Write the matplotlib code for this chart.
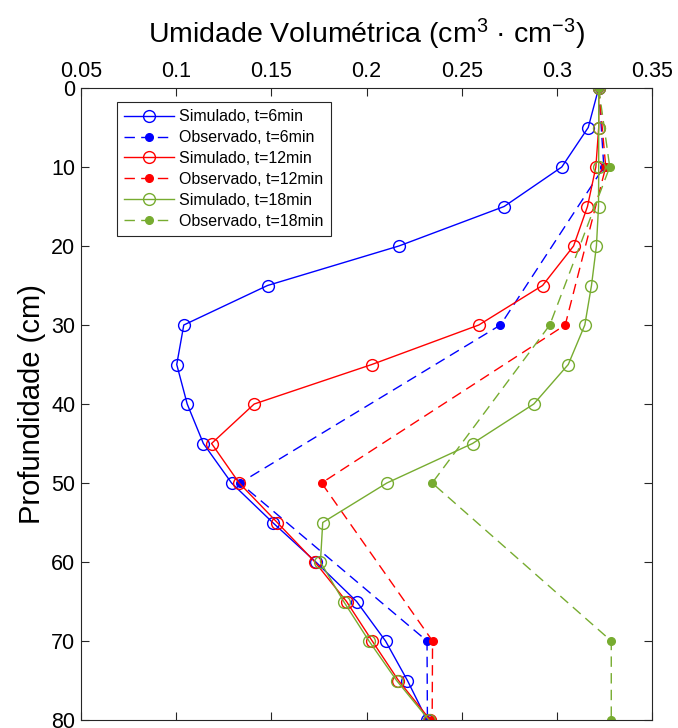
#umidade volumetrica vs profundidade - simulado e observado

import numpy as np
import matplotlib.pyplot as plt

plt.rcParams['font.family'] = ['Liberation Sans', 'DejaVu Sans']
plt.rcParams['mathtext.default'] = 'regular'

##dados lidos do grafico
#profundidades (cm)
prof_sim = [0, 5, 10, 15, 20, 25, 30, 35, 40, 45, 50, 55, 60, 65, 70, 75, 80]
prof_obs = [0, 10, 30, 50, 70, 80]

#simulado
sim_6 = [0.322, 0.3165, 0.3026, 0.2723, 0.217, 0.148, 0.104, 0.1003, 0.1058,
         0.1143, 0.1291, 0.1507, 0.1734, 0.1948, 0.2100, 0.2215, 0.2318]
sim_12 = [0.322, 0.322, 0.3205, 0.3161, 0.3088, 0.2925, 0.259, 0.2028, 0.141,
          0.1186, 0.1331, 0.1531, 0.1729, 0.1895, 0.2030, 0.2168, 0.2335]
sim_18 = [0.322, 0.322, 0.322, 0.3219, 0.3208, 0.3182, 0.3147, 0.306, 0.2879,
          0.2557, 0.2107, 0.177, 0.1758, 0.188, 0.2013, 0.2158, 0.2328]

#observado
obs_6 = [0.322, 0.3247, 0.2704, 0.1335, 0.2318, 0.2320]
obs_12 = [0.322, 0.3257, 0.3044, 0.1764, 0.2347, 0.2345]
obs_18 = [0.322, 0.3278, 0.2963, 0.2345, 0.3286, 0.3286]

labels = ['Simulado, t=6min', 'Observado, t=6min',
          'Simulado, t=12min', 'Observado, t=12min',
          'Simulado, t=18min', 'Observado, t=18min']

azul = (0, 0, 1)
verm = (1, 0, 0)
verde = (0.466, 0.674, 0.188)

fig = plt.figure(figsize=(6.78, 7.28), dpi=100)
ax = fig.add_axes([81/678, 1-720/728, 571/678, 632/728])

pares = [(sim_6, obs_6, azul), (sim_12, obs_12, verm), (sim_18, obs_18, verde)]
for k, (s, o, c) in enumerate(pares):
  ax.plot(s, prof_sim, '-', color=c, lw=1.0, marker='o', ms=8.5,
          mfc='none', mec=c, mew=1.0, label=labels[2*k])
  ax.plot(o, prof_obs, '--', color=c, lw=1.0, dashes=(7.5, 4.5), marker='o',
          ms=5.5, mfc=c, mec=c, label=labels[2*k+1])

ax.set_xlim(0.05, 0.35)
ax.set_ylim(80, 0)
ax.set_xticks(np.arange(0.05, 0.351, 0.05))
ax.set_xticklabels(['0.05', '0.1', '0.15', '0.2', '0.25', '0.3', '0.35'])
ax.set_yticks(np.arange(0, 81, 10))
ax.xaxis.tick_top()
ax.xaxis.set_label_position('top')
ax.tick_params(direction='in', top=True, bottom=True, left=True, right=True,
               labelsize=15.5, length=6, width=0.8, color='0.15', pad=4)
for sp in ax.spines.values():
  sp.set_color('0.15')
  sp.set_linewidth(0.8)

ax.set_xlabel('Umidade Volumétrica (cm$^3$ · cm$^{-3}$)', fontsize=20.5, labelpad=13)
ax.set_ylabel('Profundidade (cm)', fontsize=21, labelpad=4)

leg = ax.legend(loc='upper left', bbox_to_anchor=(117/678, 1-102/728),
                bbox_transform=fig.transFigure, fontsize=11.5, handlelength=3.1,
                labelspacing=0.37, handletextpad=0.35, borderpad=0.45,
                borderaxespad=0, fancybox=False, framealpha=1, edgecolor='0.15')
leg.get_frame().set_linewidth(0.8)

plt.savefig('out.png', dpi=100)
